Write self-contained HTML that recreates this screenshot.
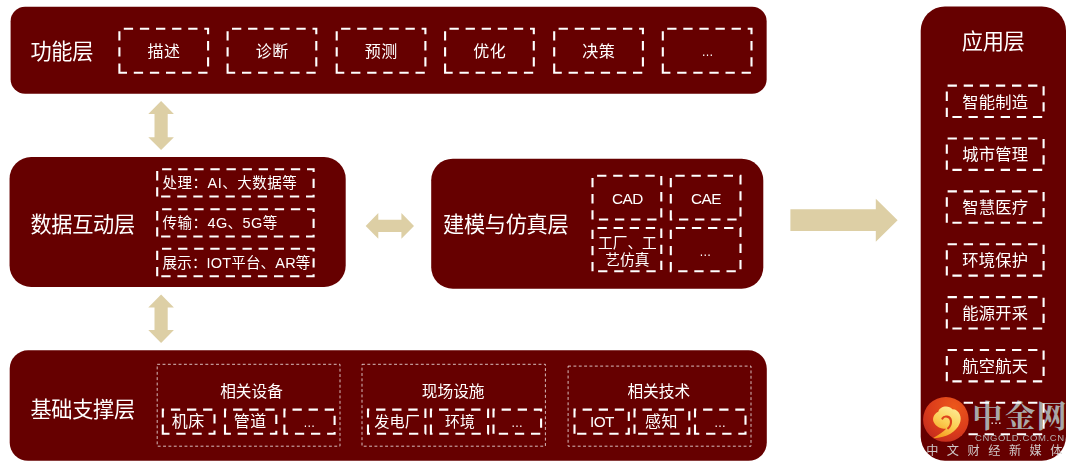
<!DOCTYPE html>
<html lang="zh-CN">
<head>
<meta charset="utf-8">
<title>数字孪生技术架构</title>
<style>
html,body{margin:0;padding:0;}
body{width:1080px;height:469px;background:#fff;position:relative;overflow:hidden;font-family:"Liberation Sans","Noto Sans CJK SC",sans-serif;color:#fff;}
svg.bg{position:absolute;left:0;top:0;}
#txt{position:absolute;left:0;top:0;width:1080px;height:469px;will-change:transform;}
.t{position:absolute;width:300px;height:40px;line-height:40px;text-align:center;white-space:nowrap;color:#fff;}
.l{position:absolute;height:40px;line-height:40px;white-space:nowrap;color:#fff;}
.ml{line-height:16.9px;height:auto;display:block;}
.dots{letter-spacing:0;}
.wm2{position:absolute;left:975.0px;top:431.7px;font-size:9.5px;line-height:12px;color:#b5b1b1;white-space:nowrap;letter-spacing:0.6px;}
.wm3{position:absolute;left:926.2px;top:442.9px;font-size:12.2px;line-height:16px;color:#cfc8c8;white-space:nowrap;letter-spacing:8.5px;}
</style>
</head>
<body>
<svg class="bg" width="1080" height="469" viewBox="0 0 1080 469">
<rect x="10.6" y="6.8" width="756.05" height="86.95" rx="14.5" ry="14.5" fill="#660000"/>
<rect x="9.55" y="157.05" width="336.15" height="129.95" rx="21.6" ry="21.6" fill="#660000"/>
<rect x="431.2" y="158.7" width="332.10" height="130.05" rx="21.6" ry="21.6" fill="#660000"/>
<rect x="9.7" y="350.3" width="757.10" height="110.50" rx="18.4" ry="18.4" fill="#660000"/>
<rect x="920.7" y="6.5" width="145.30" height="454.20" rx="24.2" ry="24.2" fill="#660000"/>
<polygon fill="#DDCFA5" points="161.10,101.10 173.90,113.90 167.70,113.90 167.70,137.30 173.90,137.30 161.10,150.10 148.30,137.30 154.50,137.30 154.50,113.90 148.30,113.90"/>
<polygon fill="#DDCFA5" points="161.10,294.60 173.90,307.40 167.70,307.40 167.70,330.10 173.90,330.10 161.10,342.90 148.30,330.10 154.50,330.10 154.50,307.40 148.30,307.40"/>
<polygon fill="#DDCFA5" points="365.70,225.90 378.30,213.10 378.30,219.70 401.40,219.70 401.40,213.10 414.00,225.90 401.40,238.70 401.40,232.10 378.30,232.10 378.30,238.70"/>
<polygon fill="#DDCFA5" points="790.40,209.20 875.80,209.20 875.80,198.80 897.60,220.30 875.80,241.80 875.80,231.00 790.40,231.00"/>
<path d="M119.40 72.70V28.80H208.10V72.70Z" fill="none" stroke="#fff" stroke-width="2.1" stroke-dasharray="9.3 6.8" stroke-dashoffset="0"/>
<path d="M227.60 72.70V28.80H316.30V72.70Z" fill="none" stroke="#fff" stroke-width="2.1" stroke-dasharray="9.3 6.8" stroke-dashoffset="0"/>
<path d="M336.70 72.70V28.80H425.40V72.70Z" fill="none" stroke="#fff" stroke-width="2.1" stroke-dasharray="9.3 6.8" stroke-dashoffset="0"/>
<path d="M445.10 72.70V28.80H533.80V72.70Z" fill="none" stroke="#fff" stroke-width="2.1" stroke-dasharray="9.3 6.8" stroke-dashoffset="0"/>
<path d="M554.20 72.70V28.80H642.90V72.70Z" fill="none" stroke="#fff" stroke-width="2.1" stroke-dasharray="9.3 6.8" stroke-dashoffset="0"/>
<path d="M662.80 72.70V28.80H751.50V72.70Z" fill="none" stroke="#fff" stroke-width="2.1" stroke-dasharray="9.3 6.8" stroke-dashoffset="0"/>
<path d="M157.20 196.50V169.20H313.60V196.50Z" fill="none" stroke="#fff" stroke-width="2.1" stroke-dasharray="9.3 6.8" stroke-dashoffset="0"/>
<path d="M157.20 236.50V209.20H313.60V236.50Z" fill="none" stroke="#fff" stroke-width="2.1" stroke-dasharray="9.3 6.8" stroke-dashoffset="0"/>
<path d="M157.20 276.20V248.80H313.60V276.20Z" fill="none" stroke="#fff" stroke-width="2.1" stroke-dasharray="9.3 6.8" stroke-dashoffset="0"/>
<path d="M592.50 219.50V175.80H661.30V219.50Z" fill="none" stroke="#fff" stroke-width="2.1" stroke-dasharray="9.3 6.8" stroke-dashoffset="0"/>
<path d="M670.80 219.50V175.80H740.50V219.50Z" fill="none" stroke="#fff" stroke-width="2.1" stroke-dasharray="9.3 6.8" stroke-dashoffset="0"/>
<path d="M592.50 271.30V228.00H661.30V271.30Z" fill="none" stroke="#fff" stroke-width="2.1" stroke-dasharray="9.3 6.8" stroke-dashoffset="0"/>
<path d="M670.80 271.30V228.00H740.50V271.30Z" fill="none" stroke="#fff" stroke-width="2.1" stroke-dasharray="9.3 6.8" stroke-dashoffset="0"/>
<rect x="157.2" y="364.3" width="182.80" height="81.90" fill="none" stroke="#fff" stroke-opacity="0.78" stroke-width="0.95" stroke-dasharray="2.9 2.45"/>
<path d="M162.80 433.70V409.60H214.50V433.70Z" fill="none" stroke="#fff" stroke-width="2.1" stroke-dasharray="9.3 6.8" stroke-dashoffset="0"/>
<path d="M225.00 433.70V409.60H276.30V433.70Z" fill="none" stroke="#fff" stroke-width="2.1" stroke-dasharray="9.3 6.8" stroke-dashoffset="0"/>
<path d="M284.40 433.70V409.60H334.60V433.70Z" fill="none" stroke="#fff" stroke-width="2.1" stroke-dasharray="9.3 6.8" stroke-dashoffset="0"/>
<rect x="362" y="364.3" width="183.40" height="81.90" fill="none" stroke="#fff" stroke-opacity="0.78" stroke-width="0.95" stroke-dasharray="2.9 2.45"/>
<path d="M368.00 433.70V409.60H425.40V433.70Z" fill="none" stroke="#fff" stroke-width="2.1" stroke-dasharray="9.3 6.8" stroke-dashoffset="0"/>
<path d="M430.90 433.70V409.60H488.10V433.70Z" fill="none" stroke="#fff" stroke-width="2.1" stroke-dasharray="9.3 6.8" stroke-dashoffset="0"/>
<path d="M493.50 433.70V409.60H541.10V433.70Z" fill="none" stroke="#fff" stroke-width="2.1" stroke-dasharray="9.3 6.8" stroke-dashoffset="0"/>
<rect x="568.1" y="366.1" width="182.90" height="80.10" fill="none" stroke="#fff" stroke-opacity="0.78" stroke-width="0.95" stroke-dasharray="2.9 2.45"/>
<path d="M574.50 433.70V409.60H628.80V433.70Z" fill="none" stroke="#fff" stroke-width="2.1" stroke-dasharray="9.3 6.8" stroke-dashoffset="0"/>
<path d="M634.50 433.70V409.60H689.30V433.70Z" fill="none" stroke="#fff" stroke-width="2.1" stroke-dasharray="9.3 6.8" stroke-dashoffset="0"/>
<path d="M695.00 433.70V409.60H745.50V433.70Z" fill="none" stroke="#fff" stroke-width="2.1" stroke-dasharray="9.3 6.8" stroke-dashoffset="0"/>
<path d="M946.80 117.00V85.60H1043.60V117.00Z" fill="none" stroke="#fff" stroke-width="2.1" stroke-dasharray="9.3 6.8" stroke-dashoffset="0"/>
<path d="M946.80 169.87V138.47H1043.60V169.87Z" fill="none" stroke="#fff" stroke-width="2.1" stroke-dasharray="9.3 6.8" stroke-dashoffset="0"/>
<path d="M946.80 222.74V191.34H1043.60V222.74Z" fill="none" stroke="#fff" stroke-width="2.1" stroke-dasharray="9.3 6.8" stroke-dashoffset="0"/>
<path d="M946.80 275.61V244.21H1043.60V275.61Z" fill="none" stroke="#fff" stroke-width="2.1" stroke-dasharray="9.3 6.8" stroke-dashoffset="0"/>
<path d="M946.80 328.48V297.08H1043.60V328.48Z" fill="none" stroke="#fff" stroke-width="2.1" stroke-dasharray="9.3 6.8" stroke-dashoffset="0"/>
<path d="M946.80 381.35V349.95H1043.60V381.35Z" fill="none" stroke="#fff" stroke-width="2.1" stroke-dasharray="9.3 6.8" stroke-dashoffset="0"/>
<text x="972.3 1005.0 1036.4" y="427.1" font-size="30.2" font-weight="bold" fill="#a9a8a8" font-family="'Liberation Serif','Noto Serif CJK SC',serif">中金网</text>
<path d="M946.80 434.22V402.82H1043.60V434.22Z" fill="none" stroke="#fff" stroke-width="2.1" stroke-dasharray="9.3 6.8" stroke-dashoffset="0"/>

<defs>
<radialGradient id="lg" cx="0.68" cy="0.22" r="0.95"><stop offset="0" stop-color="#ec571b"/><stop offset="0.55" stop-color="#dc3d1b"/><stop offset="1" stop-color="#bd271f"/></radialGradient>
<linearGradient id="sw" x1="0.7" y1="0" x2="0.25" y2="1"><stop offset="0" stop-color="#fdea92"/><stop offset="0.5" stop-color="#fbcf55"/><stop offset="1" stop-color="#f59a1c"/></linearGradient>
</defs>
<ellipse cx="945.85" cy="419.45" rx="22.8" ry="22.4" fill="url(#lg)"/>
<g transform="translate(915 390) scale(0.128)">
<path fill="url(#sw)" d="M146 374 C185 350 222 328 244 303 C210 305 168 292 149 256 C130 225 148 185 182 170 C188 128 262 112 292 150 C345 148 372 215 349 262 C324 324 250 374 146 377 Z"/>
<path fill="none" stroke="#de431b" stroke-width="17" stroke-linecap="round" d="M214 223 C227 199 277 201 281 241 C283 268 272 287 259 299"/>
</g>

</svg>
<div id="txt">
<div class="l " style="left:30.40px;top:31.80px;font-size:21.2px;letter-spacing:-0.3px;">功能层</div>
<div class="t " style="left:14.00px;top:32.00px;font-size:16px;letter-spacing:0.5px;">描述</div>
<div class="t " style="left:122.20px;top:32.00px;font-size:16px;letter-spacing:0.5px;">诊断</div>
<div class="t " style="left:231.30px;top:32.00px;font-size:16px;letter-spacing:0.5px;">预测</div>
<div class="t " style="left:339.70px;top:32.00px;font-size:16px;letter-spacing:0.5px;">优化</div>
<div class="t " style="left:448.80px;top:32.00px;font-size:16px;letter-spacing:0.5px;">决策</div>
<div class="t dots" style="left:557.50px;top:32.00px;font-size:12px;">…</div>
<div class="l " style="left:30.40px;top:204.60px;font-size:21.2px;letter-spacing:-0.3px;">数据互动层</div>
<div class="l cond" style="left:162.60px;top:163.15px;font-size:14.5px;letter-spacing:0.5px;">处理：AI、大数据等</div>
<div class="l cond" style="left:162.60px;top:203.15px;font-size:14.5px;letter-spacing:0.43px;">传输：4G、5G等</div>
<div class="l cond" style="left:162.60px;top:242.80px;font-size:14.5px;letter-spacing:0.17px;">展示：IOT平台、AR等</div>
<div class="l " style="left:443.00px;top:204.60px;font-size:21.2px;letter-spacing:-0.3px;">建模与仿真层</div>
<div class="t lat" style="left:477.40px;top:178.60px;font-size:15.3px;letter-spacing:-0.5px;">CAD</div>
<div class="t lat" style="left:556.00px;top:178.60px;font-size:15.3px;letter-spacing:-0.5px;">CAE</div>
<div class="t ml" style="left:477.40px;top:234.80px;font-size:14.7px;">工厂、工<br>艺仿真</div>
<div class="t dots" style="left:555.20px;top:231.60px;font-size:12px;">…</div>
<div class="l " style="left:30.40px;top:389.60px;font-size:21.2px;letter-spacing:-0.3px;">基础支撑层</div>
<div class="t " style="left:101.50px;top:371.50px;font-size:15.7px;">相关设备</div>
<div class="t " style="left:38.35px;top:402.00px;font-size:16px;letter-spacing:0.6px;">机床</div>
<div class="t " style="left:100.35px;top:402.00px;font-size:16px;letter-spacing:0.6px;">管道</div>
<div class="t dots" style="left:159.20px;top:402.80px;font-size:12px;">…</div>
<div class="t " style="left:303.20px;top:371.50px;font-size:15.7px;">现场设施</div>
<div class="t " style="left:247.10px;top:402.00px;font-size:15.2px;letter-spacing:0px;">发电厂</div>
<div class="t " style="left:309.90px;top:402.00px;font-size:14.8px;letter-spacing:0px;">环境</div>
<div class="t dots" style="left:367.00px;top:402.80px;font-size:12px;">…</div>
<div class="t " style="left:508.80px;top:371.50px;font-size:15.7px;">相关技术</div>
<div class="t lat" style="left:451.95px;top:401.80px;font-size:15.3px;letter-spacing:-0.5px;">IOT</div>
<div class="t " style="left:511.60px;top:402.00px;font-size:16px;letter-spacing:0.6px;">感知</div>
<div class="t dots" style="left:569.95px;top:402.80px;font-size:12px;">…</div>
<div class="t " style="left:843.20px;top:22.20px;font-size:21.2px;letter-spacing:-0.3px;">应用层</div>
<div class="t " style="left:845.20px;top:81.60px;font-size:16.3px;letter-spacing:0.2px;">智能制造</div>
<div class="t " style="left:845.20px;top:134.47px;font-size:16.3px;letter-spacing:0.2px;">城市管理</div>
<div class="t " style="left:845.20px;top:187.34px;font-size:16.3px;letter-spacing:0.2px;">智慧医疗</div>
<div class="t " style="left:845.20px;top:240.21px;font-size:16.3px;letter-spacing:0.2px;">环境保护</div>
<div class="t " style="left:845.20px;top:293.08px;font-size:16.3px;letter-spacing:0.2px;">能源开采</div>
<div class="t " style="left:845.20px;top:345.95px;font-size:16.3px;letter-spacing:0.2px;">航空航天</div>
<div class="t dots" style="left:845.90px;top:400.42px;font-size:12px;">…</div>
<div class="wm2">CNGOLD.COM.CN</div>
<div class="wm3">中文财经新媒体</div>
</div>
</body>
</html>
